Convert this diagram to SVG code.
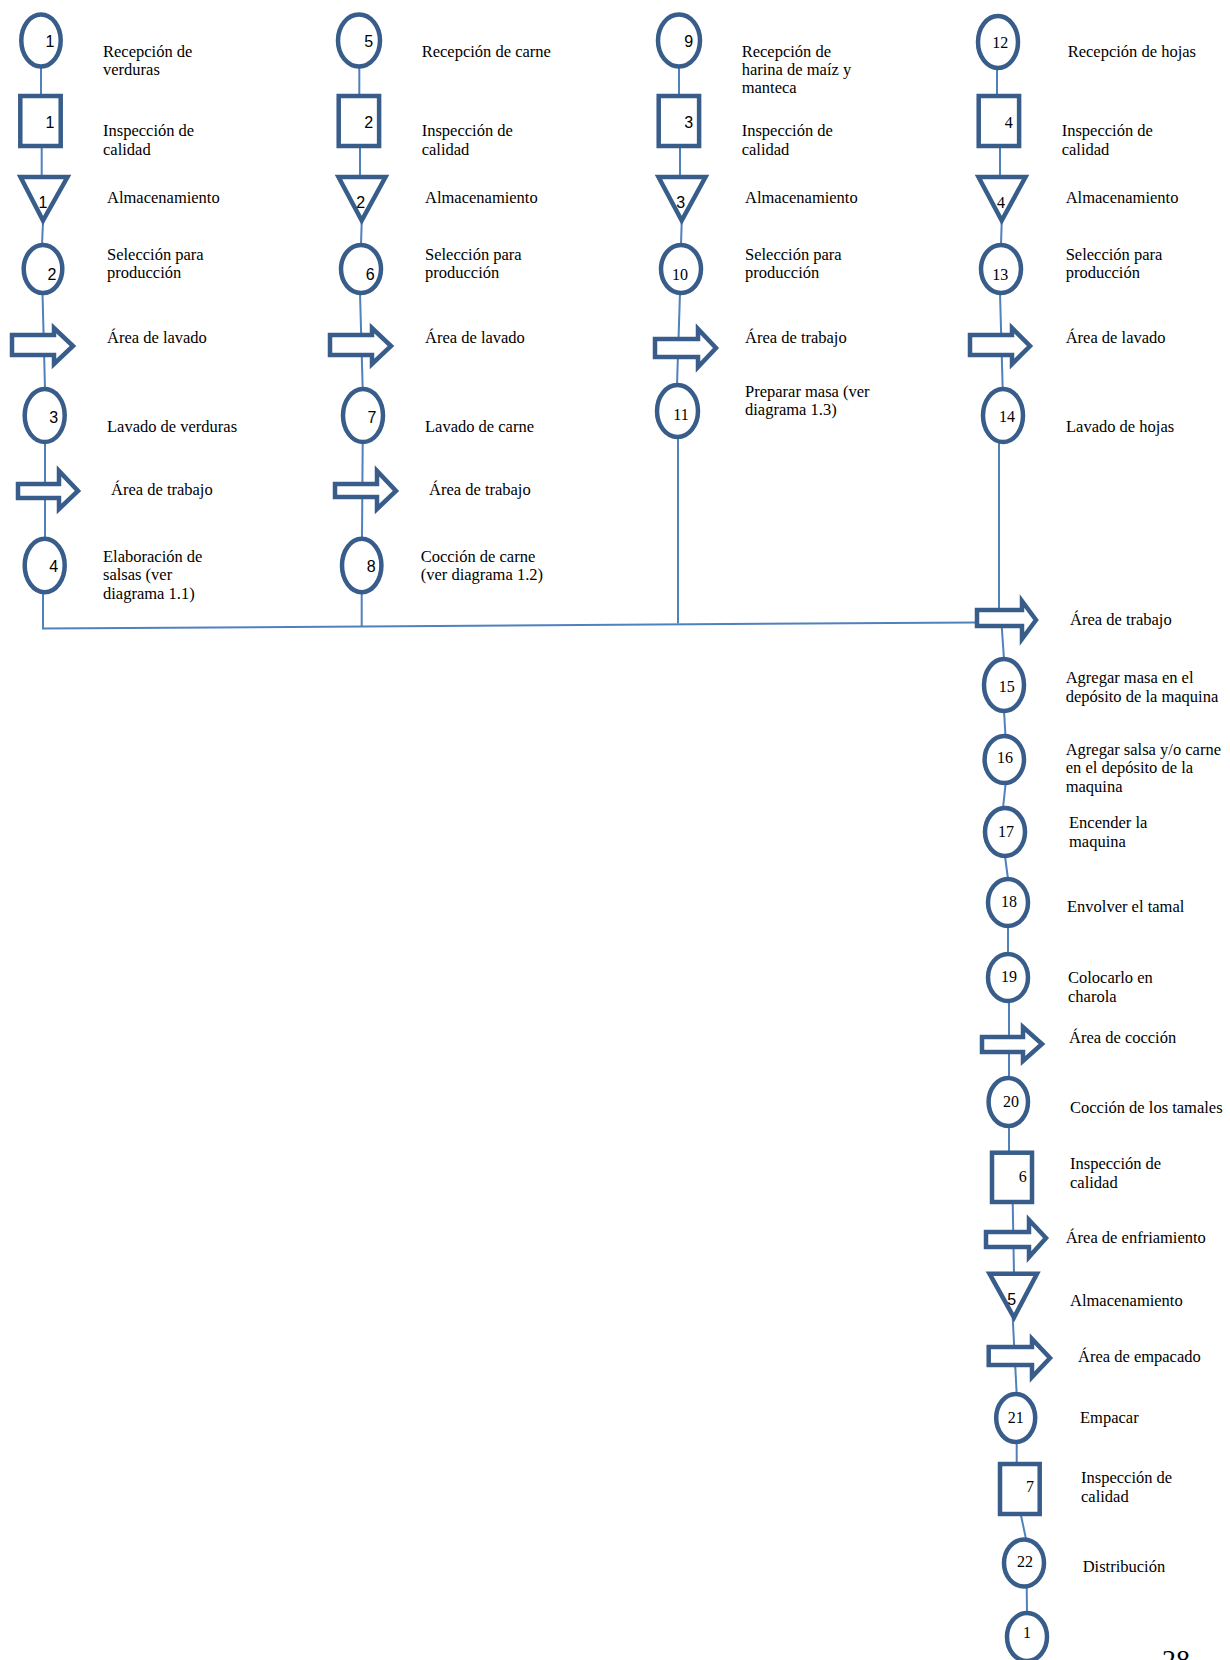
<svg xmlns="http://www.w3.org/2000/svg" width="1230" height="1660" viewBox="0 0 1230 1660">
<style>
.s{fill:#fff;stroke:#385d8a;stroke-width:4.5;stroke-linejoin:miter}
.c{stroke:#4f81bd;stroke-width:2;fill:none}
.t{font-family:"Liberation Serif","DejaVu Serif",serif;font-size:16.5px;fill:#000}
.n{font-family:"Liberation Serif","DejaVu Serif",serif;font-size:16px;fill:#000;text-anchor:middle}
.ns{font-family:"Liberation Sans","DejaVu Sans",sans-serif;font-size:16px;fill:#000;text-anchor:middle}
</style>
<rect width="1230" height="1660" fill="#fff"/>
<g id="connectors">
<line class="c" x1="41" y1="68" x2="41" y2="96"/>
<line class="c" x1="41.7" y1="146" x2="41.7" y2="177"/>
<line class="c" x1="43" y1="222" x2="42" y2="245"/>
<line class="c" x1="42.5" y1="293" x2="45" y2="389"/>
<line class="c" x1="45" y1="442" x2="45" y2="539"/>
<line class="c" x1="43" y1="592" x2="43" y2="628.5"/>
<line class="c" x1="42" y1="628.5" x2="976" y2="622.5"/>
<line class="c" x1="359.3" y1="68" x2="359.3" y2="96"/>
<line class="c" x1="360" y1="146" x2="360" y2="177"/>
<line class="c" x1="361.7" y1="222" x2="361" y2="245"/>
<line class="c" x1="360" y1="293" x2="362.7" y2="389"/>
<line class="c" x1="362.7" y1="442" x2="362" y2="539"/>
<line class="c" x1="361.7" y1="592" x2="361.7" y2="626"/>
<line class="c" x1="679" y1="68" x2="679" y2="96"/>
<line class="c" x1="680" y1="146" x2="680" y2="177"/>
<line class="c" x1="681.7" y1="222" x2="681" y2="245"/>
<line class="c" x1="680" y1="293" x2="677" y2="385"/>
<line class="c" x1="678" y1="437" x2="678" y2="623.5"/>
<line class="c" x1="997" y1="70" x2="997" y2="96"/>
<line class="c" x1="1000" y1="146" x2="1000" y2="177"/>
<line class="c" x1="1001.7" y1="222" x2="1001" y2="245"/>
<line class="c" x1="1000" y1="293" x2="1002.7" y2="389"/>
<line class="c" x1="999" y1="442" x2="999" y2="612"/>
<line class="c" x1="1001.7" y1="626" x2="1004" y2="659"/>
<line class="c" x1="1004" y1="711" x2="1005.5" y2="736"/>
<line class="c" x1="1005.7" y1="783" x2="1003" y2="808"/>
<line class="c" x1="1005" y1="856" x2="1008" y2="879"/>
<line class="c" x1="1008" y1="926" x2="1008" y2="954"/>
<line class="c" x1="1009" y1="1001" x2="1009" y2="1078"/>
<line class="c" x1="1009" y1="1126" x2="1009" y2="1153"/>
<line class="c" x1="1012.7" y1="1202" x2="1014" y2="1274"/>
<line class="c" x1="1012.7" y1="1318" x2="1016.7" y2="1394"/>
<line class="c" x1="1016.7" y1="1442" x2="1016.7" y2="1464"/>
<line class="c" x1="1020.7" y1="1514" x2="1026" y2="1539"/>
<line class="c" x1="1026.7" y1="1587" x2="1027" y2="1613"/>
</g>

<!-- Column 1 -->
<g id="n-c1"><ellipse class="s" cx="41" cy="40.5" rx="19.7" ry="26"/><text class="ns" x="50" y="46.7">1</text></g>
<g id="n-b1"><rect class="s" x="20.3" y="96" width="40.4" height="50"/><text class="ns" x="50" y="128">1</text></g>
<g id="n-t1"><polygon class="s" points="20.5,177 67.5,177 43,220.5"/><text class="ns" x="43" y="208">1</text></g>
<g id="n-c2"><ellipse class="s" cx="43" cy="269" rx="19.3" ry="24"/><text class="ns" x="52" y="280">2</text></g>
<g id="n-a1"><polygon class="s" points="12,335 54,335 54,328 73,346 54,364 54,355 12,355"/></g>
<g id="n-c3"><ellipse class="s" cx="44.7" cy="415.5" rx="20" ry="26.5"/><text class="ns" x="53.7" y="423">3</text></g>
<g id="n-a2"><polygon class="s" points="18,484 59,484 59,471 78,491 59,509 59,498 18,498"/></g>
<g id="n-c4"><ellipse class="s" cx="44.7" cy="565.5" rx="20" ry="26.7"/><text class="ns" x="53.7" y="572">4</text></g>

<!-- Column 2 -->
<g id="n-c5"><ellipse class="s" cx="359" cy="40.5" rx="21" ry="26"/><text class="ns" x="368.7" y="46.7">5</text></g>
<g id="n-b2"><rect class="s" x="338.7" y="96" width="40.4" height="50"/><text class="ns" x="368.7" y="128">2</text></g>
<g id="n-t2"><polygon class="s" points="338.5,177 385.5,177 361.7,220.5"/><text class="ns" x="360.7" y="208">2</text></g>
<g id="n-c6"><ellipse class="s" cx="361" cy="269" rx="20" ry="24"/><text class="ns" x="370.3" y="280">6</text></g>
<g id="n-a3"><polygon class="s" points="330,335 372,335 372,328 391,346 372,364 372,355 330,355"/></g>
<g id="n-c7"><ellipse class="s" cx="363" cy="415.5" rx="20" ry="26.5"/><text class="ns" x="372" y="423">7</text></g>
<g id="n-a4"><polygon class="s" points="335,484 377,484 377,471 396,491 377,509 377,497 335,497"/></g>
<g id="n-c8"><ellipse class="s" cx="361.7" cy="565.5" rx="19.7" ry="26.7"/><text class="ns" x="371.3" y="572">8</text></g>

<!-- Column 3 -->
<g id="n-c9"><ellipse class="s" cx="679" cy="40.5" rx="21" ry="26"/><text class="ns" x="688.7" y="46.7">9</text></g>
<g id="n-b3"><rect class="s" x="658.7" y="96" width="40.4" height="50"/><text class="ns" x="688.7" y="128">3</text></g>
<g id="n-t3"><polygon class="s" points="658.5,177 705.5,177 681.7,220.5"/><text class="ns" x="680.7" y="208">3</text></g>
<g id="n-c10"><ellipse class="s" cx="681" cy="269" rx="20" ry="24"/><text class="n" x="680" y="280">10</text></g>
<g id="n-a5"><polygon class="s" points="655,339 698,339 698,329 716,348 698,367 698,357 655,357"/></g>
<g id="n-c11"><ellipse class="s" cx="677.5" cy="411" rx="20.5" ry="26"/><text class="n" x="681" y="420">11</text></g>

<!-- Column 4 -->
<g id="n-c12"><ellipse class="s" cx="998" cy="42" rx="20" ry="26"/><text class="n" x="1000.3" y="48">12</text></g>
<g id="n-b4"><rect class="s" x="978.7" y="96" width="40.4" height="50"/><text class="n" x="1008.8" y="128">4</text></g>
<g id="n-t4"><polygon class="s" points="978.5,177 1025.5,177 1001.7,220.5"/><text class="n" x="1001" y="208">4</text></g>
<g id="n-c13"><ellipse class="s" cx="1001" cy="269" rx="20" ry="24"/><text class="n" x="1000.3" y="280">13</text></g>
<g id="n-a6"><polygon class="s" points="970,335 1012,335 1012,328 1030,346 1012,364 1012,355 970,355"/></g>
<g id="n-c14"><ellipse class="s" cx="1003" cy="415.5" rx="20" ry="26.5"/><text class="n" x="1007" y="421.7">14</text></g>
<g id="n-a7"><polygon class="s" points="977,610 1022,610 1022,601 1036,620 1022,639 1022,626 977,626"/></g>
<g id="n-c15"><ellipse class="s" cx="1004" cy="685" rx="20" ry="26"/><text class="n" x="1006.7" y="692">15</text></g>
<g id="n-c16"><ellipse class="s" cx="1004.3" cy="759.5" rx="19.7" ry="23.5"/><text class="n" x="1005" y="763">16</text></g>
<g id="n-c17"><ellipse class="s" cx="1005" cy="832" rx="20" ry="24"/><text class="n" x="1006" y="837">17</text></g>
<g id="n-c18"><ellipse class="s" cx="1008" cy="902.5" rx="20" ry="23.5"/><text class="n" x="1009" y="906.7">18</text></g>
<g id="n-c19"><ellipse class="s" cx="1008" cy="977.5" rx="20" ry="23.5"/><text class="n" x="1009" y="981.7">19</text></g>
<g id="n-a8"><polygon class="s" points="982,1037 1023,1037 1023,1027 1042,1044 1023,1061 1023,1052 982,1052"/></g>
<g id="n-c20"><ellipse class="s" cx="1008.3" cy="1102" rx="19.7" ry="24"/><text class="n" x="1011" y="1106.7">20</text></g>
<g id="n-b6"><rect class="s" x="992" y="1152.7" width="40" height="49.3"/><text class="n" x="1022.7" y="1181.7">6</text></g>
<g id="n-a9"><polygon class="s" points="986,1232 1029,1232 1029,1220 1046,1238 1029,1257 1029,1247 986,1247"/></g>
<g id="n-t5"><polygon class="s" points="989.5,1273.7 1037,1273.7 1014,1317.5"/><text class="ns" x="1011.7" y="1305">5</text></g>
<g id="n-a10"><polygon class="s" points="988.7,1347 1032,1347 1032,1339 1050,1358 1032,1377 1032,1365 988.7,1365"/></g>
<g id="n-c21"><ellipse class="s" cx="1015.7" cy="1418" rx="19.5" ry="24"/><text class="n" x="1015.7" y="1423">21</text></g>
<g id="n-b7"><rect class="s" x="1000" y="1464" width="39.7" height="50"/><text class="n" x="1030" y="1491.7">7</text></g>
<g id="n-c22"><ellipse class="s" cx="1024" cy="1563" rx="20" ry="23.5"/><text class="n" x="1025" y="1567">22</text></g>
<g id="n-cend"><ellipse class="s" cx="1027" cy="1637" rx="20" ry="24"/><text class="n" x="1027" y="1638">1</text></g>

<g id="labels">
<text class="t" x="103" y="57">Recepción de</text>
<text class="t" x="103" y="75">verduras</text>
<text class="t" x="103" y="136">Inspección de</text>
<text class="t" x="103" y="155">calidad</text>
<text class="t" x="107" y="203">Almacenamiento</text>
<text class="t" x="107" y="260">Selección para</text>
<text class="t" x="107" y="278">producción</text>
<text class="t" x="107" y="343">Área de lavado</text>
<text class="t" x="107" y="432">Lavado de verduras</text>
<text class="t" x="111" y="495">Área de trabajo</text>
<text class="t" x="103" y="562">Elaboración de</text>
<text class="t" x="103" y="580">salsas (ver</text>
<text class="t" x="103" y="599">diagrama 1.1)</text>

<text class="t" x="421.7" y="57">Recepción de carne</text>
<text class="t" x="421.7" y="136">Inspección de</text>
<text class="t" x="421.7" y="155">calidad</text>
<text class="t" x="425" y="203">Almacenamiento</text>
<text class="t" x="425" y="260">Selección para</text>
<text class="t" x="425" y="278">producción</text>
<text class="t" x="425" y="343">Área de lavado</text>
<text class="t" x="425" y="432">Lavado de carne</text>
<text class="t" x="429" y="495">Área de trabajo</text>
<text class="t" x="420.7" y="562">Cocción de carne</text>
<text class="t" x="420.7" y="580">(ver diagrama 1.2)</text>

<text class="t" x="741.7" y="57">Recepción de</text>
<text class="t" x="741.7" y="75">harina de maíz y</text>
<text class="t" x="741.7" y="93">manteca</text>
<text class="t" x="741.7" y="136">Inspección de</text>
<text class="t" x="741.7" y="155">calidad</text>
<text class="t" x="745" y="203">Almacenamiento</text>
<text class="t" x="745" y="260">Selección para</text>
<text class="t" x="745" y="278">producción</text>
<text class="t" x="745" y="343">Área de trabajo</text>
<text class="t" x="745" y="397">Preparar masa (ver</text>
<text class="t" x="745" y="415">diagrama 1.3)</text>

<text class="t" x="1067.7" y="57">Recepción de hojas</text>
<text class="t" x="1061.7" y="136">Inspección de</text>
<text class="t" x="1061.7" y="155">calidad</text>
<text class="t" x="1065.7" y="203">Almacenamiento</text>
<text class="t" x="1065.7" y="260">Selección para</text>
<text class="t" x="1065.7" y="278">producción</text>
<text class="t" x="1065.7" y="343">Área de lavado</text>
<text class="t" x="1066" y="431.7">Lavado de hojas</text>
<text class="t" x="1070" y="625">Área de trabajo</text>
<text class="t" x="1065.7" y="683">Agregar masa en el</text>
<text class="t" x="1065.7" y="702">depósito de la maquina</text>
<text class="t" x="1065.7" y="755">Agregar salsa y/o carne</text>
<text class="t" x="1065.7" y="773">en el depósito de la</text>
<text class="t" x="1065.7" y="792">maquina</text>
<text class="t" x="1069" y="828">Encender la</text>
<text class="t" x="1069" y="847">maquina</text>
<text class="t" x="1067" y="911.7">Envolver el tamal</text>
<text class="t" x="1068" y="983">Colocarlo en</text>
<text class="t" x="1068" y="1001.7">charola</text>
<text class="t" x="1069" y="1043">Área de cocción</text>
<text class="t" x="1070" y="1113">Cocción de los tamales</text>
<text class="t" x="1070" y="1169">Inspección de</text>
<text class="t" x="1070" y="1187.7">calidad</text>
<text class="t" x="1065.7" y="1243">Área de enfriamiento</text>
<text class="t" x="1070" y="1306">Almacenamiento</text>
<text class="t" x="1078" y="1361.7">Área de empacado</text>
<text class="t" x="1080" y="1422.7">Empacar</text>
<text class="t" x="1081" y="1483">Inspección de</text>
<text class="t" x="1081" y="1502">calidad</text>
<text class="t" x="1082.7" y="1572">Distribución</text>
<text class="t" x="1162" y="1669" style="font-size:28px">28</text>
</g>
</svg>
